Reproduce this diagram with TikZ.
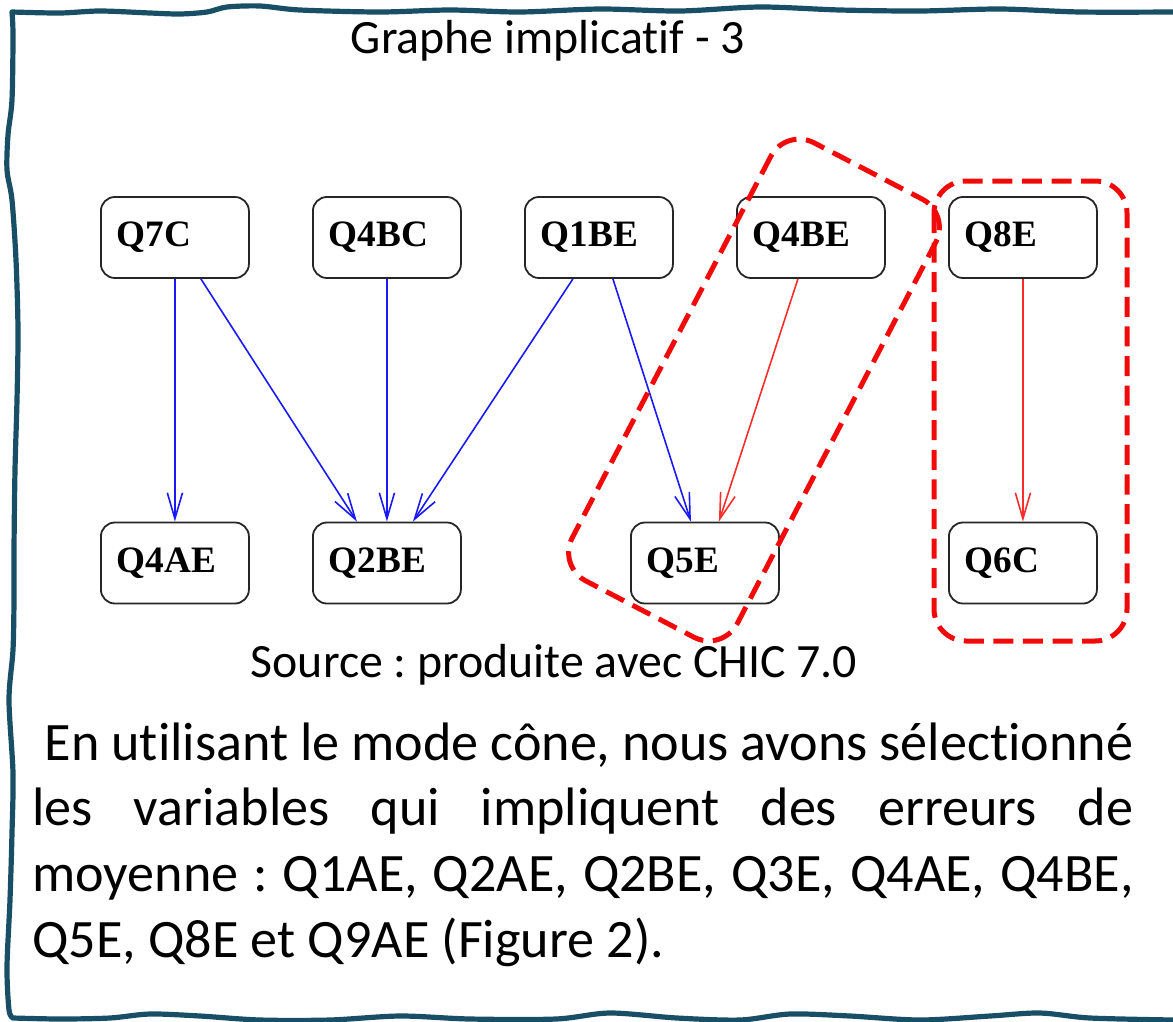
\documentclass[tikz,border=0pt]{standalone}
\usepackage{fontspec}
\setmainfont{Carlito}[Ligatures=NoCommon]
\newfontfamily\chicfont{Liberation Serif}
\usetikzlibrary{arrows.meta}
\definecolor{framecol}{RGB}{24,78,102}
\definecolor{implblue}{RGB}{25,25,250}
\definecolor{implred}{RGB}{250,45,45}
\definecolor{conered}{RGB}{240,10,10}
\newcommand{\widthvar}{37mm}
\newcommand{\stepvar}{53mm}
\frenchspacing
\tikzset{
    var/.style={anchor=west, draw=black!85, line width=0.45mm, rounded corners=3.5mm,
        minimum height=20.25mm, text width=\widthvar-8mm, inner xsep=4mm, align=left,
        font=\chicfont\bfseries\fontsize{26.5}{30}\selectfont},
    imp/.style={-{Straight Barb[length=6.5mm, width=3.8mm]}, line width=0.4mm},
    cone/.style={draw=conered, line width=1.25mm, dash pattern=on 5mm off 2.4mm, rounded corners=8mm},
    handframe/.style={draw=framecol, line width=1.3mm, line cap=round, line join=round},
    caption/.style={anchor=base, font=\fontsize{34}{40}\selectfont}
}

\begin{document}
\begin{tikzpicture}[x=0.25mm, y=-0.25mm]
    \useasboundingbox (0,0) rectangle (1173,1021);

    \draw[handframe] plot[smooth] coordinates {(1173,12) (1080,12) (1000,9) (920,11) (840,10) (760,7) (680,11) (600,9) (520,12) (450,10) (380,12) (300,10) (260,6) (227,7) (207,12) (180,14) (150,13) (100,11) (60,13) (12,12)}
        plot[smooth] coordinates {(12,12) (13,35) (12,100) (8,135) (7,170) (12,200) (16,260) (18,330) (17,400) (15,470) (14,550) (14,600) (13,650) (9,700) (13,773) (12,833) (10,900) (7,967) (9,1010) (13,1018)}
        plot[smooth] coordinates {(13,1018) (60,1019) (110,1018) (150,1014) (200,1016) (260,1020) (330,1020) (400,1016) (470,1019) (556,1019) (610,1013) (677,1018) (740,1020) (790,1014) (850,1016) (920,1020) (990,1016) (1040,1013) (1090,1018) (1173,1020)};

    \node[caption] (title) at (548,53) {Graphe implicatif - 3};

    \path (100,237.5) node[var] (q7c) {Q7C}
        to ++(0:\stepvar) node[var] (q4bc) {Q4BC}
        to ++(0:\stepvar) node[var] (q1be) {Q1BE}
        to ++(0:\stepvar) node[var] (q4be) {Q4BE}
        to ++(0:\stepvar) node[var] (q8e) {Q8E};

    \path (100,563) node[var] (q4ae) {Q4AE}
        to ++(0:\stepvar) node[var] (q2be) {Q2BE}
        to ++(0:1.5*\stepvar) node[var] (q5e) {Q5E}
        to ++(0:1.5*\stepvar) node[var] (q6c) {Q6C};

    \draw[imp, implblue] (q7c.south) -- (q4ae.north);
    \draw[imp, implblue] ([xshift=6.5mm]q7c.south) -- ([xshift=-7.5mm]q2be.north);
    \draw[imp, implblue] (q4bc.south) -- (q2be.north);
    \draw[imp, implblue] ([xshift=-6.5mm]q1be.south) -- ([xshift=6.5mm]q2be.north);
    \draw[imp, implblue] ([xshift=3.5mm]q1be.south) -- ([xshift=-3.5mm]q5e.north);
    \draw[imp, implred] ([xshift=-3.25mm]q4be.south) -- ([xshift=3.5mm]q5e.north);
    \draw[imp, implred] (q8e.south) -- (q6c.north);

    \node[cone, rotate=62.5, minimum width=123.5mm, minimum height=46.5mm] (band) at (754,390) {};
    \draw[cone] (934,181) rectangle (1127,641);

    \node[caption] (source) at (554,677) {Source : produite avec CHIC 7.0};

    \node[anchor=base west, inner sep=0, text width=275.25mm, align=justify,
        font=\fontsize{38.5}{46.9}\selectfont] (text) at (32,760)
        {\tolerance=10000 \hyphenpenalty=10000
        \hspace*{0.23em}En utilisant le mode cône, nous avons sélectionné\linebreak
        les variables qui impliquent des erreurs de\linebreak
        moyenne : Q1AE, Q2AE, Q2BE, Q3E, Q4AE, Q4BE,\linebreak
        Q5E, Q8E et Q9AE (Figure 2).};
\end{tikzpicture}
\end{document}
